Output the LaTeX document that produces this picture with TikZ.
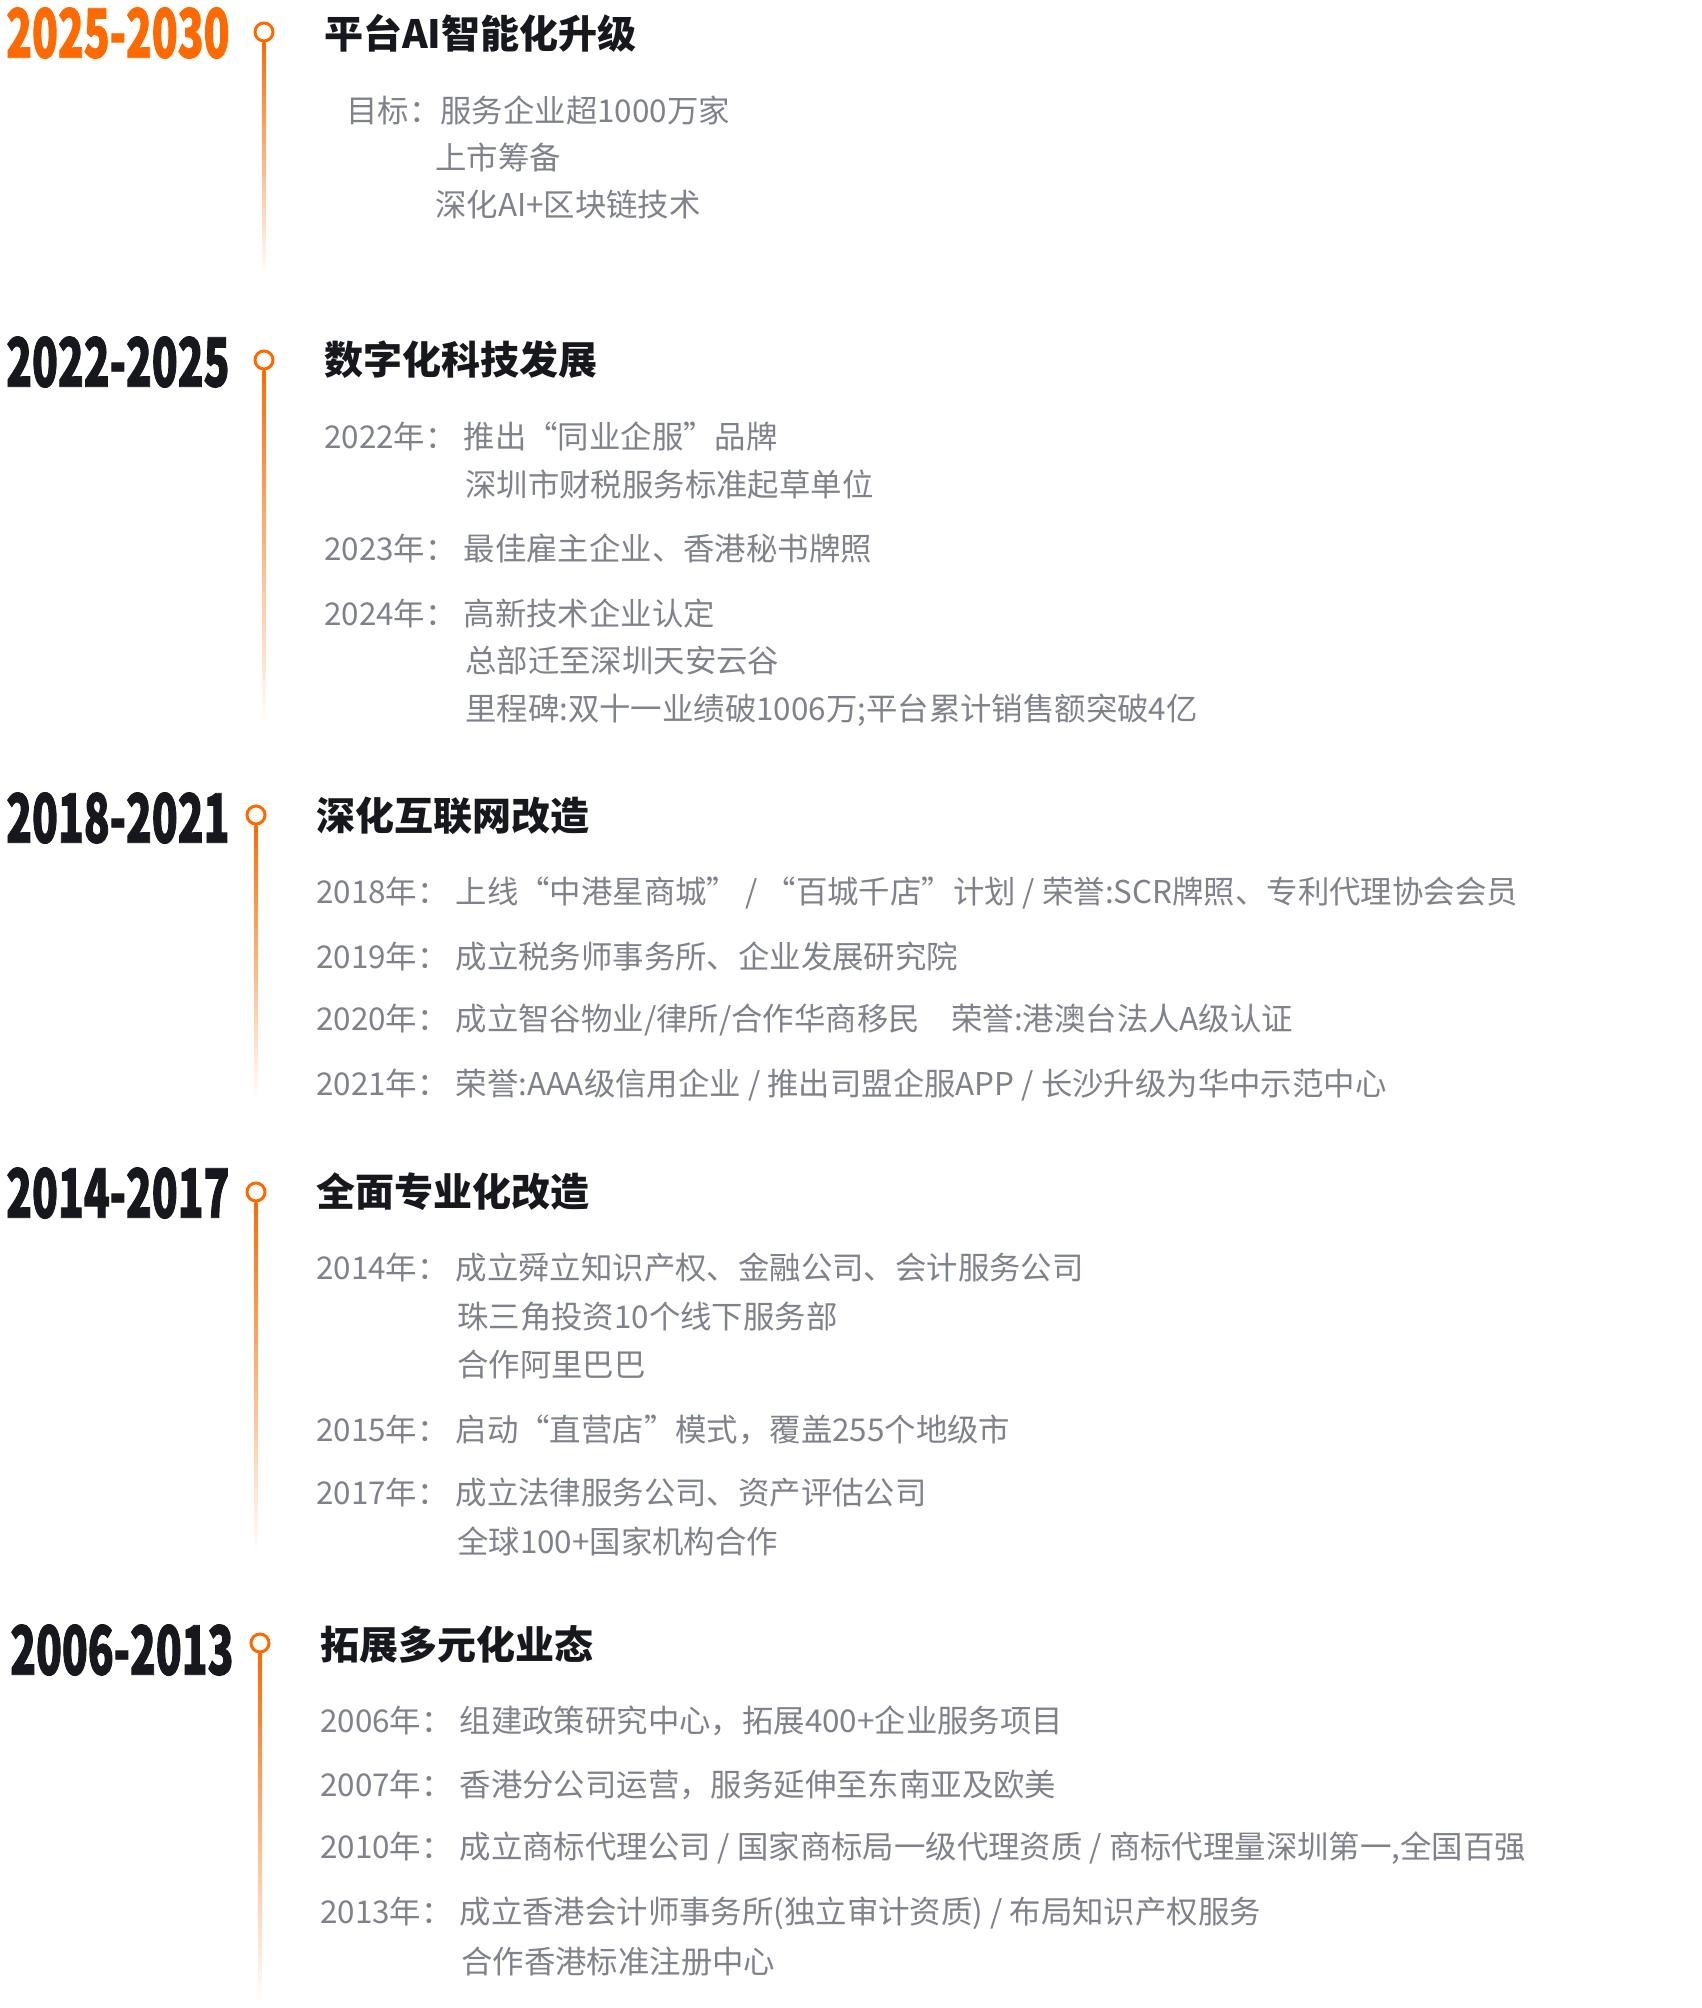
\documentclass[tikz,border=0pt]{standalone}
\usepackage{fontspec}
\setmainfont{Noto Sans CJK SC}
\newfontfamily\yearfont[FakeStretch=0.625,FakeBold=1.2]{Noto Sans CJK SC}
\definecolor{tlorange}{HTML}{FF6A00}
\definecolor{tldark}{HTML}{16181D}
\definecolor{tlgray}{HTML}{7F828A}
\newcommand{\yrlabel}[1]{#1年：\kern7pt}

\begin{document}
\begin{tikzpicture}[x=1pt,y=-1pt,
  year/.style={anchor=west,inner sep=0pt,text=tldark,font=\yearfont\bfseries\fontsize{68}{68}\selectfont},
  head/.style={anchor=west,inner sep=0pt,text=tldark,font=\bfseries\fontsize{39}{39}\selectfont},
  item/.style={anchor=west,inner sep=0pt,text=tlgray,font=\fontsize{31.4}{31.4}\selectfont},
  dot/.style={circle,draw=tlorange,fill=white,line width=3pt,minimum size=18pt,inner sep=0pt},
  stem/.style={top color=tlorange,middle color=tlorange!72,bottom color=white}]
\useasboundingbox (0,0) rectangle (1702,2008);

\node(Y1) [year,text=tlorange] at (6,33) {2025-2030};
\node(C1) [dot] at (264,32) {};
\coordinate(E1) at (264,273);
\shade[stem] ([xshift=-1.6pt]C1.south) rectangle ([xshift=1.6pt]E1);
\node(T1) [head] at (324,33) {平台AI智能化升级};
\node(A11) [item] at (346,110) {目标：服务企业超1000万家};
\node(A12) [item] at (435,157) {上市筹备};
\node(A13) [item] at (435,205) {深化AI+区块链技术};

\node(Y2) [year] at (6,362) {2022-2025};
\node(C2) [dot] at (264,360) {};
\coordinate(E2) at (264,722);
\shade[stem] ([xshift=-1.6pt]C2.south) rectangle ([xshift=1.6pt]E2);
\node(T2) [head] at (324,360) {数字化科技发展};
\node(A21) [item] at (324,436) {\yrlabel{2022}推出“同业企服”品牌};
\node(A22) [item] at (465,485) {深圳市财税服务标准起草单位};
\node(A23) [item] at (324,548) {\yrlabel{2023}最佳雇主企业、香港秘书牌照};
\node(A24) [item] at (324,613) {\yrlabel{2024}高新技术企业认定};
\node(A25) [item] at (465,661) {总部迁至深圳天安云谷};
\node(A26) [item] at (465,710) {里程碑:双十一业绩破1006万;平台累计销售额突破4亿};

\node(Y3) [year] at (6,818) {2018-2021};
\node(C3) [dot] at (256,815) {};
\coordinate(E3) at (256,1098);
\shade[stem] ([xshift=-1.6pt]C3.south) rectangle ([xshift=1.6pt]E3);
\node(T3) [head] at (316,816) {深化互联网改造};
\node(A31) [item] at (316,893) {\yrlabel{2018}上线“中港星商城” / “百城千店”计划 / 荣誉:SCR牌照、专利代理协会会员};
\node(A32) [item] at (316,957) {\yrlabel{2019}成立税务师事务所、企业发展研究院};
\node(A33) [item] at (316,1020) {\yrlabel{2020}成立智谷物业/律所/合作华商移民\quad 荣誉:港澳台法人A级认证};
\node(A34) [item] at (316,1085) {\yrlabel{2021}荣誉:AAA级信用企业 / 推出司盟企服APP / 长沙升级为华中示范中心};

\node(Y4) [year] at (6,1193) {2014-2017};
\node(C4) [dot] at (256,1192) {};
\coordinate(E4) at (256,1552);
\shade[stem] ([xshift=-1.6pt]C4.south) rectangle ([xshift=1.6pt]E4);
\node(T4) [head] at (316,1192) {全面专业化改造};
\node(A41) [item] at (316,1268) {\yrlabel{2014}成立舜立知识产权、金融公司、会计服务公司};
\node(A42) [item] at (457,1317) {珠三角投资10个线下服务部};
\node(A43) [item] at (457,1365) {合作阿里巴巴};
\node(A44) [item] at (316,1430) {\yrlabel{2015}启动“直营店”模式，覆盖255个地级市};
\node(A45) [item] at (316,1493) {\yrlabel{2017}成立法律服务公司、资产评估公司};
\node(A46) [item] at (457,1541) {全球100+国家机构合作};

\node(Y5) [year] at (10,1650) {2006-2013};
\node(C5) [dot] at (260,1643) {};
\coordinate(E5) at (260,2002);
\shade[stem] ([xshift=-1.6pt]C5.south) rectangle ([xshift=1.6pt]E5);
\node(T5) [head] at (320,1645) {拓展多元化业态};
\node(A51) [item] at (320,1721) {\yrlabel{2006}组建政策研究中心，拓展400+企业服务项目};
\node(A52) [item] at (320,1785) {\yrlabel{2007}香港分公司运营，服务延伸至东南亚及欧美};
\node(A53) [item] at (320,1848) {\yrlabel{2010}成立商标代理公司 / 国家商标局一级代理资质 / 商标代理量深圳第一,全国百强};
\node(A54) [item] at (320,1913) {\yrlabel{2013}成立香港会计师事务所(独立审计资质) / 布局知识产权服务};
\node(A55) [item] at (461,1962) {合作香港标准注册中心};
\end{tikzpicture}
\end{document}
